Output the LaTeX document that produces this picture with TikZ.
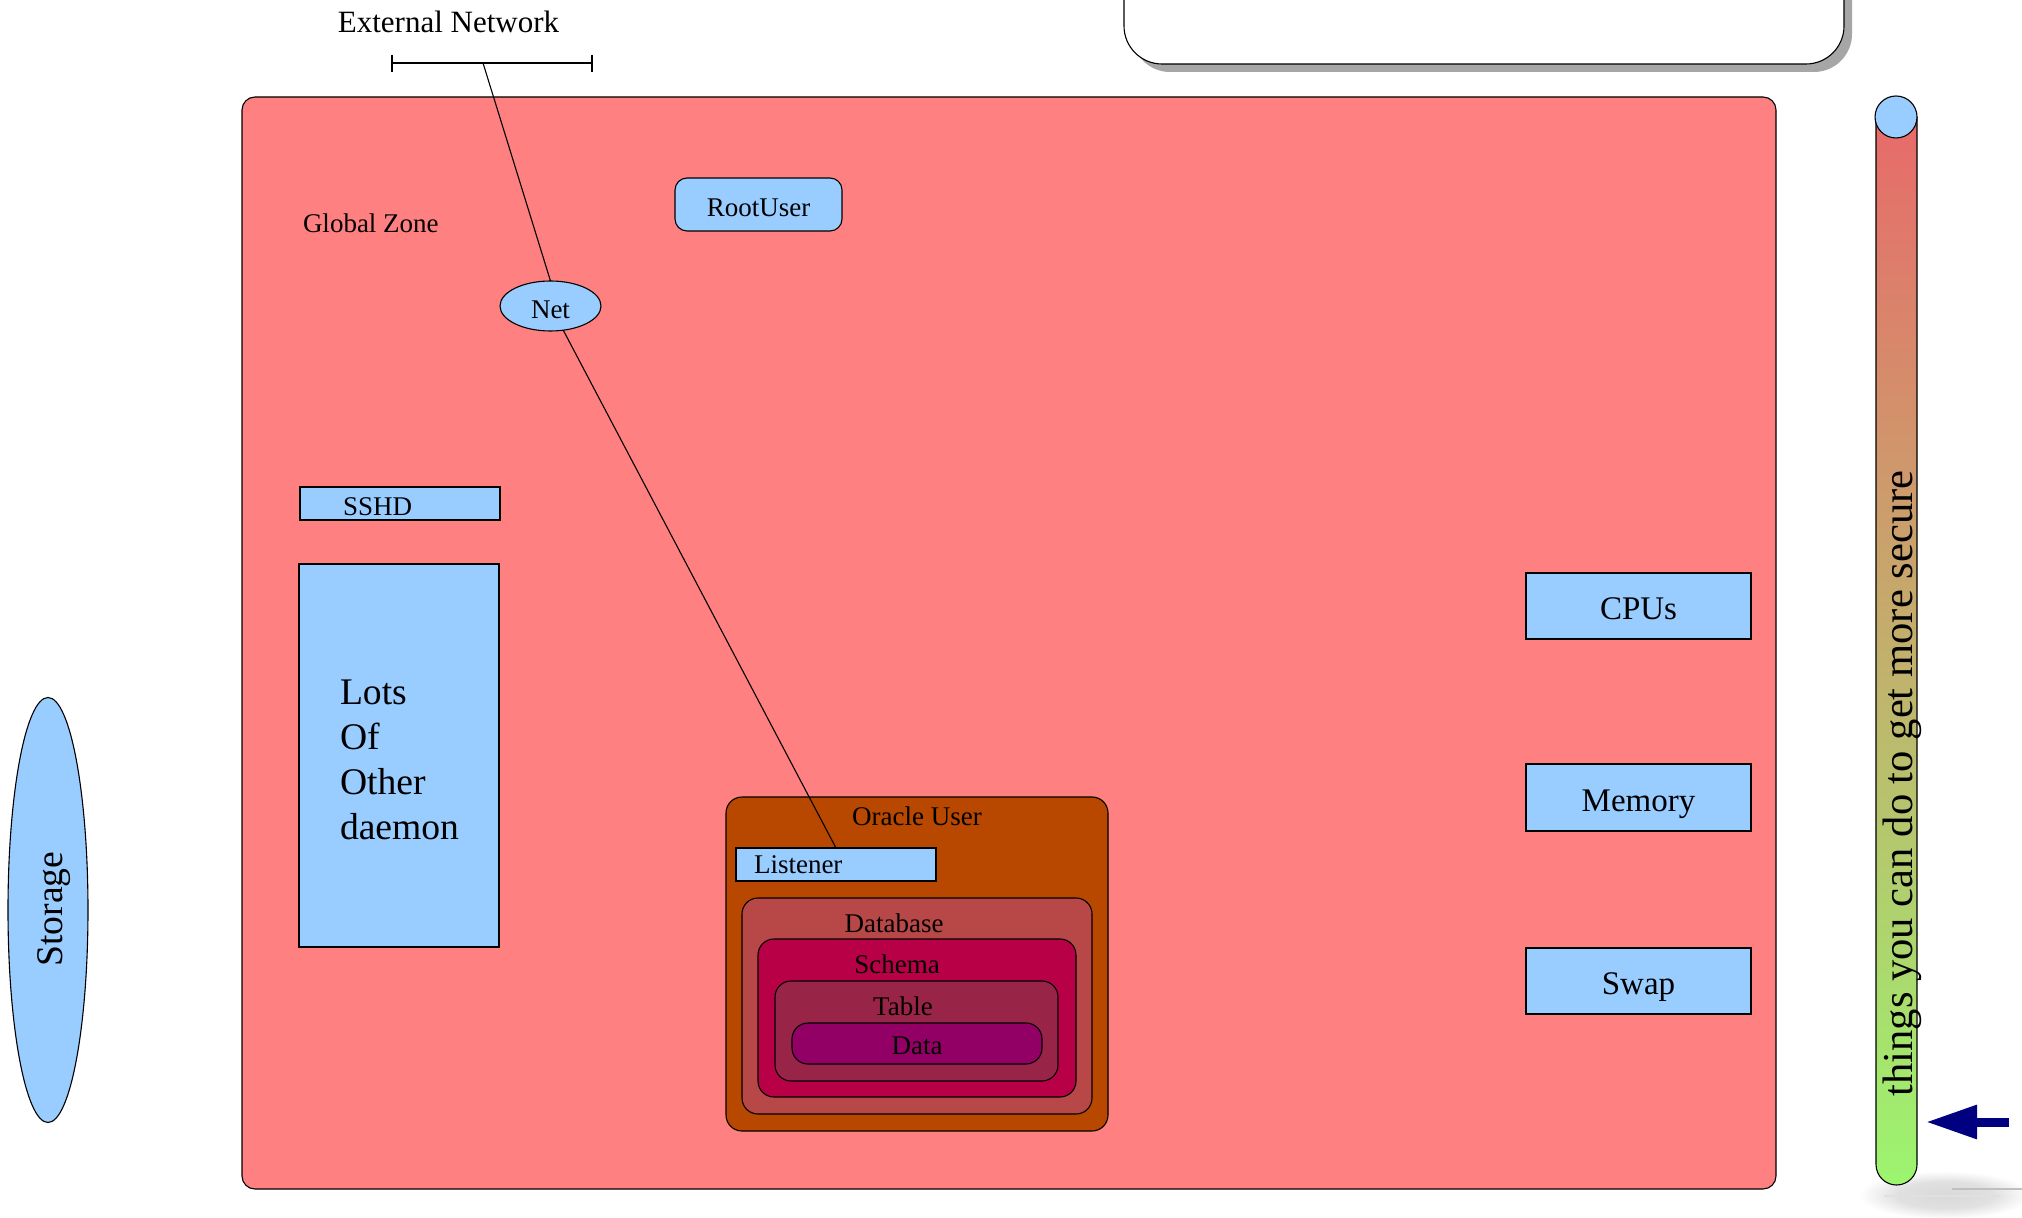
\documentclass[tikz,border=0pt]{standalone}
\usepackage{fontspec}
\setmainfont{Liberation Serif}
\usetikzlibrary{shapes.geometric,arrows.meta}
\definecolor{zonepink}{HTML}{FF8080}
\definecolor{boxblue}{HTML}{99CCFF}
\definecolor{oraclebrown}{HTML}{B84700}
\definecolor{dbred}{HTML}{B84747}
\definecolor{schemared}{HTML}{B80047}
\definecolor{tablered}{HTML}{982448}
\definecolor{datapurple}{HTML}{920066}
\definecolor{barred}{HTML}{E86A6A}
\definecolor{bargreen}{HTML}{9CF56F}
\definecolor{shadowgray}{HTML}{A6A6A6}
\definecolor{arrownavy}{HTML}{000080}
% soft shadow under the scale: flat grey core with a blurred rim
\pgfdeclareradialshading{softshadow}{\pgfpoint{0bp}{0bp}}{%
  color(0bp)=(black!15); color(14bp)=(black!12); color(25bp)=(white); color(50bp)=(white)}

\begin{document}
\begin{tikzpicture}[x=0.5pt,y=-0.5pt,line width=0.55pt,
  every node/.style={inner sep=0pt,outer sep=0pt},
  smalltext/.style={font=\fontsize{13.5pt}{16pt}\selectfont},
  nettext/.style={font=\fontsize{15.5pt}{18pt}\selectfont},
  restext/.style={font=\fontsize{16.5pt}{20pt}\selectfont},
  bigtext/.style={font=\fontsize{18.8pt}{22.5pt}\selectfont},
  bluebox/.style={draw,fill=boxblue,rectangle,text depth=0pt},
  nestbox/.style={draw,rectangle,rounded corners=8pt},
]
\useasboundingbox (0,0) rectangle (2022,1218);
\clip (0,0) rectangle (2022,1218);

% framed panel at the top right, with its drop shadow
\fill[shadowgray,rounded corners=19pt] (1132,-80) rectangle (1852,72);
\draw[fill=white,rounded corners=19pt] (1124,-88) rectangle (1844,64);

% external network segment
\node[nettext,anchor=base] (extlabel) at (448.5,32.5) {External Network};
\draw (392,63) -- (592,63);
\draw (392,55) -- (392,72);
\draw (592,55) -- (592,72);
\coordinate (extlink) at (483,63);

% global zone
\node[draw,fill=zonepink,rectangle,rounded corners=6.5pt,
      minimum width=767pt,minimum height=546pt] (gz) at (1009,643) {};
\node[smalltext,anchor=base west] (gzlabel) at (303,232.5) {Global Zone};

\node[bluebox,rounded corners=6pt,smalltext,text height=12pt,
      minimum width=83.5pt,minimum height=26.5pt] (root) at (758.5,204.5) {RootUser};
\node[draw,fill=boxblue,ellipse,smalltext,text height=12.5pt,text depth=0pt,
      minimum width=50.5pt,minimum height=25pt] (net) at (550.5,306) {Net};

% daemons
\node[bluebox,minimum width=100pt,minimum height=16.5pt] (sshd) at (400,503.5) {};
\node[smalltext,anchor=base west] (sshdlabel) at (343,515.5) {SSHD};
\node[bluebox,minimum width=100pt,minimum height=191.5pt] (daemons) at (399,755.5) {};
\node[bigtext,anchor=base west] (l1) at (340,704.5) {Lots};
\node[bigtext,anchor=base west] (l2) at (340,749.5) {Of};
\node[bigtext,anchor=base west] (l3) at (340,794.5) {Other};
\node[bigtext,anchor=base west] (l4) at (340,839.5) {daemon};

% resources
\node[bluebox,restext,text height=13.5pt,minimum width=112.5pt,minimum height=33pt] (cpus) at (1638.5,606) {CPUs};
\node[bluebox,restext,text height=14pt,minimum width=112.5pt,minimum height=33.5pt] (mem) at (1638.5,797.5) {Memory};
\node[bluebox,restext,text height=13.5pt,minimum width=112.5pt,minimum height=33pt] (swap) at (1638.5,981) {Swap};

% oracle user and its nested objects
\node[nestbox,fill=oraclebrown,minimum width=191pt,minimum height=167pt] (oracle) at (917,964) {};
\node[smalltext,anchor=base] (oraclelabel) at (917,825.5) {Oracle User};
\node[bluebox,minimum width=100pt,minimum height=16.5pt] (listener) at (836,864.5) {};
\node[smalltext,anchor=base west] (listenerlabel) at (754,873.5) {Listener};
\node[nestbox,fill=dbred,minimum width=175pt,minimum height=108pt] (db) at (917,1006) {};
\node[smalltext,anchor=base] (dblabel) at (894,932) {Database};
\node[nestbox,fill=schemared,minimum width=159pt,minimum height=79pt] (schema) at (917,1018) {};
\node[smalltext,anchor=base] (schemalabel) at (897,973.5) {Schema};
\node[nestbox,fill=tablered,minimum width=141.5pt,minimum height=50pt] (table) at (916.5,1031) {};
\node[smalltext,anchor=base] (tablelabel) at (903,1015.5) {Table};
\node[nestbox,fill=datapurple,smalltext,text height=11pt,text depth=0pt,
      minimum width=125pt,minimum height=20.5pt] (data) at (917,1043.5) {Data};

% network path
\draw (extlink) -- (net.north);
\draw (net) -- (listener.north);

% storage
\node[draw,fill=boxblue,ellipse,minimum width=40pt,minimum height=212.5pt] (storage) at (48,910) {};
\node[bigtext,rotate=90,anchor=base] (storagelabel) at (62,909) {Storage};

% security scale
\shade[shading=softshadow] (1945,1195) ellipse[x radius=43pt,y radius=12pt];
\draw[black!25] (1952,1189) -- (2022,1189);
\draw[black!12] (1884,1196) -- (2000,1196);
\shade[top color=barred,bottom color=bargreen]
  (1876,117) -- (1876,1164.5) arc[start angle=180,end angle=360,radius=10.25pt] -- (1917,117) -- cycle;
\draw (1876,117) -- (1876,1164.5) arc[start angle=180,end angle=360,radius=10.25pt] -- (1917,117);
\node[draw,fill=boxblue,circle,minimum size=21pt] (knob) at (1896,117) {};
\node[font=\fontsize{21.3pt}{25pt}\selectfont,rotate=90,anchor=base] (scalelabel) at (1912,783.5)
  {things you can do to get more secure};
\coordinate (arrowtail) at (2009,1122);
\coordinate (arrowtip) at (1926,1122);
\draw[arrownavy,line width=4.5pt,-{Triangle[length=25.5pt,width=16pt]}] (arrowtail) -- (arrowtip);
\end{tikzpicture}
\end{document}
